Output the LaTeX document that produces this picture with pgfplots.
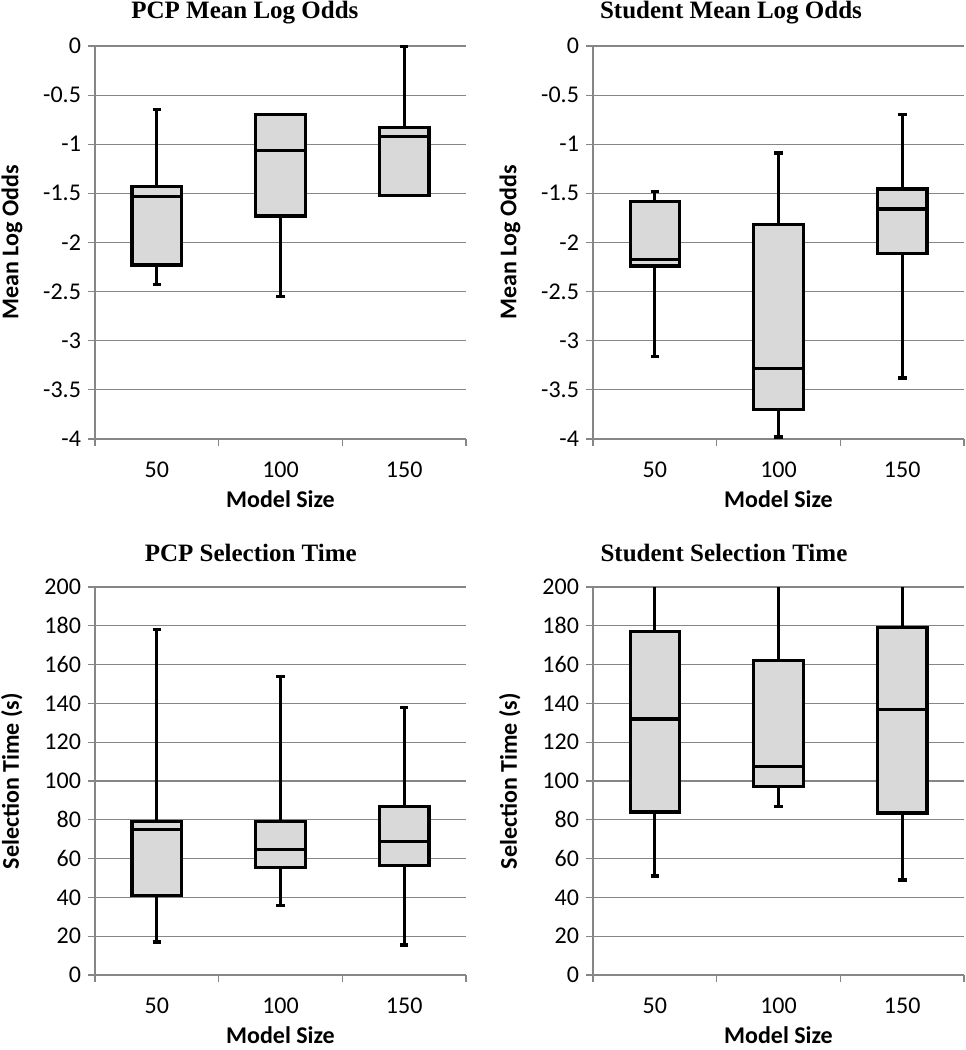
\documentclass[border=0pt]{standalone}
\usepackage{fontspec}
\setmainfont{Carlito}
\newfontfamily\titlefont{Liberation Serif}
\usepackage{pgfplots}
\pgfplotsset{compat=1.18}
\usepgfplotslibrary{statistics}
\definecolor{gridgray}{RGB}{134,134,134}
\definecolor{boxfill}{RGB}{217,217,217}

\pgfplotsset{
  excelbox/.style={
    scale only axis, width=185.5pt,
    xmin=0.5, xmax=3.5,
    xtick={1,2,3}, xticklabels={50,100,150},
    minor xtick={0.5,1.5,2.5,3.5},
    major x tick style={draw=none},
    major tick length=3.5pt, minor tick length=3.5pt,
    tick align=outside,
    axis x line*=bottom, axis y line*=left,
    axis line style={gridgray, line width=0.6pt},
    every tick/.append style={gridgray, line width=0.6pt},
    ymajorgrids, grid style={gridgray, line width=0.6pt},
    tick label style={font=\fontsize{12}{14}\selectfont},
    xticklabel style={yshift=-4.5pt},
    /pgf/number format/assume math mode=true,
    label style={font=\bfseries\fontsize{12}{14}\selectfont},
    xlabel={Model Size},
    xlabel style={at={(axis description cs:0.5,0)}, anchor=center, yshift=-30pt},
    ylabel style={at={(axis description cs:-0.224,0.5)}, anchor=center},
    title style={font=\titlefont\bfseries\fontsize{12.5}{14}\selectfont, anchor=center},
    boxplot/draw direction=y,
    boxplot/box extend=0.4, boxplot/whisker extend=0.07,
  },
  bx/.style={draw=black, fill=boxfill, line width=1.6pt, solid},
}

\begin{document}
\begin{tikzpicture}
\useasboundingbox (0,0) rectangle (482.5pt,525pt);

% PCP Mean Log Odds
\begin{axis}[excelbox, at={(47.5pt,305.5pt)}, anchor=south west, height=196.5pt,
  ymin=-4, ymax=0, ytick={-4,-3.5,-3,-2.5,-2,-1.5,-1,-0.5,0},
  ylabel={Mean Log Odds}, title={PCP Mean Log Odds},
  title style={at={(axis description cs:0.404,1)}, yshift=10.5pt}]
  \addplot[bx, boxplot prepared={draw position=1, lower whisker=-2.43, lower quartile=-2.23, median=-1.53, upper quartile=-1.43, upper whisker=-0.65}] coordinates {};
  \addplot[bx, boxplot prepared={draw position=2, lower whisker=-2.55, lower quartile=-1.73, median=-1.065, upper quartile=-0.70, upper whisker=-0.70}] coordinates {};
  \addplot[bx, boxplot prepared={draw position=3, lower whisker=-1.52, lower quartile=-1.52, median=-0.92, upper quartile=-0.83, upper whisker=0}] coordinates {};
\end{axis}

% Student Mean Log Odds
\begin{axis}[excelbox, at={(296.5pt,305.5pt)}, anchor=south west, height=196.5pt,
  ymin=-4, ymax=0, ytick={-4,-3.5,-3,-2.5,-2,-1.5,-1,-0.5,0},
  ylabel={Mean Log Odds}, title={Student Mean Log Odds},
  title style={at={(axis description cs:0.372,1)}, yshift=10.5pt}]
  \addplot[bx, boxplot prepared={draw position=1, lower whisker=-3.16, lower quartile=-2.24, median=-2.17, upper quartile=-1.58, upper whisker=-1.48}] coordinates {};
  \addplot[bx, boxplot prepared={draw position=2, lower whisker=-3.98, lower quartile=-3.70, median=-3.28, upper quartile=-1.815, upper whisker=-1.09}] coordinates {};
  \addplot[bx, boxplot prepared={draw position=3, lower whisker=-3.38, lower quartile=-2.11, median=-1.66, upper quartile=-1.455, upper whisker=-0.70}] coordinates {};
\end{axis}

% PCP Selection Time
\begin{axis}[excelbox, at={(47.5pt,37.5pt)}, anchor=south west, height=194pt,
  ymin=0, ymax=200, ytick={0,20,...,200},
  ylabel={Selection Time (s)}, title={PCP Selection Time},
  title style={at={(axis description cs:0.42,1)}, yshift=11pt}]
  \addplot[bx, boxplot prepared={draw position=1, lower whisker=17, lower quartile=41, median=75, upper quartile=79, upper whisker=178}] coordinates {};
  \addplot[bx, boxplot prepared={draw position=2, lower whisker=36, lower quartile=55.5, median=64.5, upper quartile=79, upper whisker=154}] coordinates {};
  \addplot[bx, boxplot prepared={draw position=3, lower whisker=15.5, lower quartile=56.5, median=69, upper quartile=87, upper whisker=138}] coordinates {};
\end{axis}

% Student Selection Time
\begin{axis}[excelbox, at={(296.5pt,37.5pt)}, anchor=south west, height=194pt,
  ymin=0, ymax=200, ytick={0,20,...,200},
  ylabel={Selection Time (s)}, title={Student Selection Time},
  title style={at={(axis description cs:0.353,1)}, yshift=11pt}]
  \addplot[bx, boxplot prepared={draw position=1, lower whisker=51, lower quartile=84, median=132, upper quartile=177, upper whisker=230}] coordinates {};
  \addplot[bx, boxplot prepared={draw position=2, lower whisker=87, lower quartile=97, median=107.5, upper quartile=162, upper whisker=230}] coordinates {};
  \addplot[bx, boxplot prepared={draw position=3, lower whisker=49, lower quartile=83.5, median=137, upper quartile=179, upper whisker=230}] coordinates {};
\end{axis}
\end{tikzpicture}
\end{document}
